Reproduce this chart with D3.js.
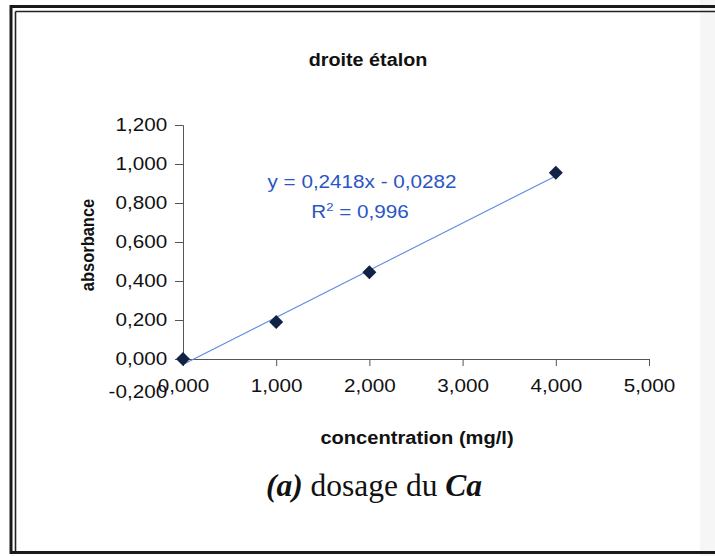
<!DOCTYPE html>
<html><head><meta charset="utf-8">
<script src="https://cdn.jsdelivr.net/npm/d3@7"></script>
<style>
html,body{margin:0;padding:0;background:#fff;}
svg{display:block;}
</style></head>
<body>
<svg id="chart" width="715" height="556"></svg>
<script>
// ---- data ----
const concentrations = [0, 1, 2, 4];
const absorbances = [0.000, 0.190, 0.445, 0.955];
const xTicks = [0, 1, 2, 3, 4, 5];
const yTicks = [-0.2, 0, 0.2, 0.4, 0.6, 0.8, 1.0, 1.2];
const slope = 0.2418, intercept = -0.0282, r2 = 0.996;
const chartTitle = "droite étalon";
const xTitle = "concentration (mg/l)";
const yTitle = "absorbance";
const equationText = "y = 0,2418x - 0,0282";

const SX = 1.13; // horizontal stretch of the scanned picture
const FS = 18.3;
const SANS = "'Liberation Sans', Arial, sans-serif";
const svg = d3.select("#chart");
const loc = d3.formatLocale({decimal:",", thousands:" ", grouping:[3], currency:["",""], minus:"-"});
const fmt = loc.format(".3f");

// background scan edge
svg.append("rect").attr("x",0).attr("y",0).attr("width",715).attr("height",556).attr("fill","#fff");
svg.append("rect").attr("x",700).attr("y",0).attr("width",15).attr("height",556).attr("fill","#f6f6f6");

// frame
svg.append("rect").attr("x",11).attr("y",6.5).attr("width",760).attr("height",546)
  .attr("fill","none").attr("stroke","#1a1a1a").attr("stroke-width",3);
svg.append("line").attr("x1",15.5).attr("x2",15.5).attr("y1",11.5).attr("y2",551)
  .attr("stroke","#222").attr("stroke-width",1.6);
svg.append("line").attr("x1",15.5).attr("x2",760).attr("y1",11.5).attr("y2",11.5)
  .attr("stroke","#222").attr("stroke-width",1.6);

const x = d3.scaleLinear().domain([0,5]).range([183,649]);
const y = d3.scaleLinear().domain([0,1.2]).range([359,125]);

// title
svg.append("text").attr("transform",`translate(368,66) scale(${SX},1)`)
  .attr("text-anchor","middle").style("font-family",SANS).attr("font-size",17.5).attr("font-weight","bold").attr("fill","#111")
  .text(chartTitle);

// x axis
const gx = svg.append("g").attr("transform",`translate(0,${y(0)})`)
  .call(d3.axisBottom(x).tickValues(xTicks).tickFormat(fmt).tickSize(7).tickPadding(13));
gx.select(".domain").attr("stroke","#555");
gx.selectAll(".tick line").attr("stroke","#555");
gx.selectAll(".tick text").attr("font-size",FS).attr("fill","#111")
  .style("font-family",SANS)
  .attr("transform",`scale(${SX},1)`);

// y axis
const gy = svg.append("g").attr("transform",`translate(${x(0)},0)`)
  .call(d3.axisLeft(y).tickValues(yTicks).tickFormat(fmt).tickSize(8).tickPadding(6));
gy.select(".domain").attr("stroke","#555");
gy.selectAll(".tick line").attr("stroke","#555");
gy.selectAll(".tick text").attr("font-size",FS).attr("fill","#111")
  .style("font-family",SANS)
  .attr("transform",d => d < 0 ? `translate(0,-6) scale(${SX},1)` : `scale(${SX},1)`);
gy.selectAll(".tick").filter(d => d < 0).select("line").remove();

// axis titles
svg.append("text").attr("transform",`translate(417,444) scale(${SX},1)`)
  .attr("text-anchor","middle").style("font-family",SANS).attr("font-size",17.8).attr("font-weight","bold").attr("fill","#111")
  .text(xTitle);
svg.append("text").attr("transform",`translate(94,245) scale(${SX},1) rotate(-90)`)
  .attr("text-anchor","middle").style("font-family",SANS).attr("font-size",16.5).attr("font-weight","bold").attr("fill","#111")
  .text(yTitle);

// trendline
const x0 = 0, x1 = d3.max(concentrations);
svg.append("line")
  .attr("x1",x(x0)).attr("y1",y(slope*x0+intercept))
  .attr("x2",x(x1)).attr("y2",y(slope*x1+intercept))
  .attr("stroke","#5b8be0").attr("stroke-width",1.1);

// markers
const h = 7, w = 7;
svg.append("g").selectAll("path").data(concentrations.map((c,i)=>[c,absorbances[i]]))
  .join("path")
  .attr("transform",d=>`translate(${x(d[0])},${y(d[1])})`)
  .attr("d",`M0,${-h}L${w},0L0,${h}L${-w},0Z`)
  .attr("fill","#112244");

// equation
svg.append("text").attr("transform",`translate(362,188) scale(${SX},1)`)
  .attr("text-anchor","middle").style("font-family",SANS).attr("font-size",FS).attr("fill","#2a55c4")
  .text(equationText);
const rt = svg.append("text").attr("transform",`translate(360,218) scale(${SX},1)`)
  .attr("text-anchor","middle").style("font-family",SANS).attr("font-size",FS).attr("fill","#2a55c4");
rt.append("tspan").text("R");
rt.append("tspan").attr("font-size",11.5).attr("dy",-7.5).text("2");
rt.append("tspan").attr("dy",7.5).text(" = " + loc.format(".3f")(r2));

// caption
const cap = svg.append("text").attr("x",374).attr("y",496).attr("text-anchor","middle")
  .style("font-family","'Liberation Serif', 'Times New Roman', serif").attr("font-size",31.5).attr("fill","#111");
cap.append("tspan").attr("font-weight","bold").attr("font-style","italic").text("(a)");
cap.append("tspan").text(" dosage du ");
cap.append("tspan").attr("font-weight","bold").attr("font-style","italic").text("Ca");
</script>
</body></html>
